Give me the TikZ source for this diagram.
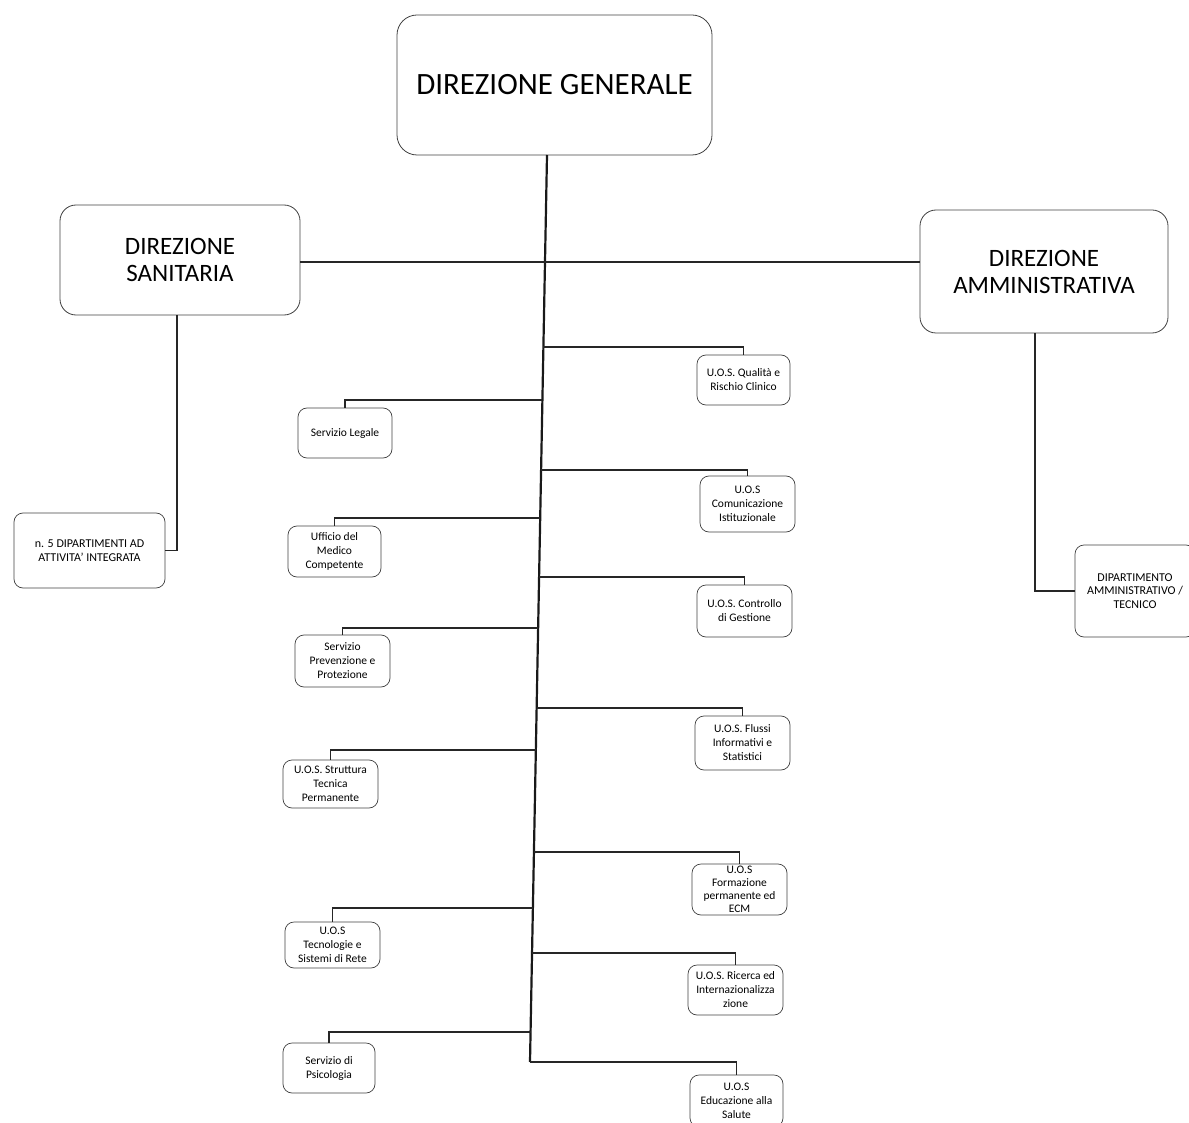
\documentclass[tikz,border=0pt]{standalone}
\usepackage{fontspec}
\setmainfont{Carlito}
\usetikzlibrary{calc}
\tikzset{
  bigbox/.style={draw=black!75, line width=0.8pt, rounded corners=20pt, align=center, inner sep=0pt},
  smallbox/.style={draw=black!75, line width=0.7pt, rounded corners=9pt, align=center, inner sep=0pt,
    font=\fontsize{11.5}{14}\selectfont},
  conn/.style={draw=black!85, line width=1.6pt},
  trunkline/.style={draw=black!90, line width=2.2pt},
}
\begin{document}
\begin{tikzpicture}[x=1pt,y=-1pt]
\useasboundingbox (0,0) rectangle (1189,1123);

% top level
\node[bigbox, minimum width=315, minimum height=140, font=\fontsize{31}{36}\selectfont]
  (dg) at (554.5,85) {DIREZIONE GENERALE};
\node[bigbox, minimum width=240, minimum height=110, rounded corners=16pt, font=\fontsize{25}{27}\selectfont]
  (ds) at (180,260) {DIREZIONE\\SANITARIA};
\node[bigbox, minimum width=248, minimum height=123, rounded corners=16pt, font=\fontsize{25}{27}\selectfont]
  (da) at (1044,271.5) {DIREZIONE\\AMMINISTRATIVA};

% departments
\node[smallbox, minimum width=151, minimum height=75, font=\fontsize{12}{13.5}\selectfont]
  (dip) at (89.5,550.5) {n. 5 DIPARTIMENTI AD\\ATTIVITA' INTEGRATA};
\node[smallbox, minimum width=120, minimum height=92, font=\fontsize{12}{13.5}\selectfont]
  (dipam) at (1135,591) {DIPARTIMENTO\\AMMINISTRATIVO /\\TECNICO};

% staff units, right column
\node[smallbox, minimum width=93, minimum height=50] (qual) at (743.5,380) {U.O.S. Qualità e\\Rischio Clinico};
\node[smallbox, minimum width=95, minimum height=56] (com) at (747.5,504) {U.O.S\\Comunicazione\\Istituzionale};
\node[smallbox, minimum width=95, minimum height=52] (ctrl) at (744.5,611) {U.O.S. Controllo\\di Gestione};
\node[smallbox, minimum width=95, minimum height=54] (flus) at (742.5,743) {U.O.S. Flussi\\Informativi e\\Statistici};
\node[smallbox, minimum width=95, minimum height=51, font=\fontsize{11.5}{13}\selectfont] (form) at (739.5,889.5) {U.O.S\\Formazione\\permanente ed\\ECM};
\node[smallbox, minimum width=95, minimum height=50] (ric) at (735.5,990) {U.O.S. Ricerca ed\\Internazionalizza\\zione};
\node[smallbox, minimum width=93, minimum height=52] (edu) at (736.5,1101) {U.O.S\\Educazione alla\\Salute};

% staff units, left column
\node[smallbox, minimum width=94, minimum height=50] (leg) at (345,433) {Servizio Legale};
\node[smallbox, minimum width=93, minimum height=51] (med) at (334.5,551.5) {Ufficio del\\Medico\\Competente};
\node[smallbox, minimum width=95, minimum height=52] (prev) at (342.5,661) {Servizio\\Prevenzione e\\Protezione};
\node[smallbox, minimum width=95, minimum height=48] (strut) at (330.5,784) {U.O.S. Struttura\\Tecnica\\Permanente};
\node[smallbox, minimum width=95, minimum height=46] (tec) at (332.5,945) {U.O.S\\Tecnologie e\\Sistemi di Rete};
\node[smallbox, minimum width=92, minimum height=50] (psi) at (329,1068) {Servizio di\\Psicologia};

% main trunk and its branch points
\coordinate (tt) at (547,155);
\coordinate (tb) at (530,1062);
\draw[trunkline] (tt) -- (tb);
\coordinate (b0)  at ($(tt)!0.1180!(tb)$);
\coordinate (b1)  at ($(tt)!0.2117!(tb)$);
\coordinate (b2)  at ($(tt)!0.2701!(tb)$);
\coordinate (b3)  at ($(tt)!0.3473!(tb)$);
\coordinate (b4)  at ($(tt)!0.4002!(tb)$);
\coordinate (b5)  at ($(tt)!0.4653!(tb)$);
\coordinate (b6)  at ($(tt)!0.5215!(tb)$);
\coordinate (b7)  at ($(tt)!0.6097!(tb)$);
\coordinate (b8)  at ($(tt)!0.6560!(tb)$);
\coordinate (b9)  at ($(tt)!0.7685!(tb)$);
\coordinate (b10) at ($(tt)!0.8302!(tb)$);
\coordinate (b11) at ($(tt)!0.8798!(tb)$);
\coordinate (b12) at ($(tt)!0.9669!(tb)$);

% line between the two directions
\draw[conn] (ds.east |- b0) -- (da.west |- b0);

% branches
\draw[conn] (b1)  -| (qual.north);
\draw[conn] (b2)  -| (leg.north);
\draw[conn] (b3)  -| (com.north);
\draw[conn] (b4)  -| (med.north);
\draw[conn] (b5)  -| (ctrl.north);
\draw[conn] (b6)  -| (prev.north);
\draw[conn] (b7)  -| (flus.north);
\draw[conn] (b8)  -| (strut.north);
\draw[conn] (b9)  -| (form.north);
\draw[conn] (b10) -| (tec.north);
\draw[conn] (b11) -| (ric.north);
\draw[conn] (b12) -| (psi.north);
\draw[conn] (tb)  -| (edu.north);

% directions to their departments
\draw[conn] ([xshift=-3pt]ds.south) |- (dip.east);
\draw[conn] ([xshift=-9pt]da.south) |- (dipam.west);
\end{tikzpicture}
\end{document}
